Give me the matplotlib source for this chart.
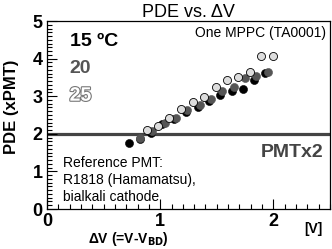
import matplotlib
matplotlib.use('Agg')
import matplotlib.pyplot as plt
import matplotlib.patheffects as pe
from matplotlib.ticker import MultipleLocator

# PDE relative to reference PMT vs over-voltage, three temperatures
dv_15 = [0.72, 0.82, 0.92, 1.02, 1.12, 1.23, 1.33, 1.43, 1.53, 1.63, 1.73, 1.83, 1.93]
pde_15 = [1.75, 1.86, 2.02, 2.25, 2.40, 2.58, 2.70, 2.88, 3.04, 3.15, 3.20, 3.43, 3.62]

dv_20 = [0.82, 0.93, 1.04, 1.14, 1.24, 1.35, 1.45, 1.55, 1.65, 1.75, 1.85, 1.95]
pde_20 = [1.88, 2.08, 2.30, 2.42, 2.62, 2.76, 2.93, 3.13, 3.25, 3.48, 3.55, 3.65]

dv_25 = [0.88, 0.98, 1.08, 1.18, 1.29, 1.39, 1.49, 1.59, 1.69, 1.79, 1.89, 2.00]
pde_25 = [2.10, 2.20, 2.43, 2.67, 2.85, 2.97, 3.25, 3.42, 3.50, 3.65, 4.08, 4.08]

pmt_ref = 2.0

plt.rcParams['font.family'] = ['Liberation Sans', 'DejaVu Sans']

fig = plt.figure(figsize=(3.32, 2.49), dpi=100)
ax = fig.add_axes([47/332, 40/249, 283/332, 188/249])

ax.axhline(pmt_ref, color='#444444', lw=2.3, zorder=1)

ms = 5.8
ax.plot(dv_15, pde_15, 'o', color='black', ms=ms, mec='black', mew=0.4, zorder=3)
ax.plot(dv_20, pde_20, 'o', color='#555555', ms=ms, mec='#555555', mew=0.4, zorder=4)
ax.plot(dv_25, pde_25, 'o', color='#dddddd', ms=ms, mec='black', mew=0.6, zorder=5)

ax.set_xlim(0, 2.5)
ax.set_ylim(0, 5)
ax.xaxis.set_major_locator(MultipleLocator(1))
ax.xaxis.set_minor_locator(MultipleLocator(0.1))
ax.yaxis.set_major_locator(MultipleLocator(1))
ax.yaxis.set_minor_locator(MultipleLocator(0.1))
ax.tick_params(which='both', direction='in', top=False, right=False, width=0.8)
ax.tick_params(which='major', length=7, labelsize=13, pad=3)
ax.tick_params(which='minor', length=3.5)
for lab in ax.get_xticklabels() + ax.get_yticklabels():
    lab.set_fontweight('bold')
for s in ax.spines.values():
    s.set_linewidth(0.9)

ax.set_title('PDE vs. ΔV', fontsize=13, pad=2)

fig.text(12/332, 1 - 107/249, 'PDE (xPMT)', rotation=90, ha='center', va='center',
         fontsize=12, fontweight='bold')
fig.text(128/332, 1 - 239/249, r'ΔV (=V-V$_{\mathbf{BD}}$)', ha='center', va='center',
         fontsize=10, fontweight='bold')
fig.text(313/332, 1 - 229/249, '[V]', ha='center', va='center', fontsize=10, fontweight='bold')

ax.text(0.08, 0.89, '15 ºC', transform=ax.transAxes, fontsize=14, fontweight='bold',
        color='black', va='center')
ax.text(0.08, 0.745, '20', transform=ax.transAxes, fontsize=14, fontweight='bold',
        color='#555555', va='center')
ax.text(0.08, 0.60, '25', transform=ax.transAxes, fontsize=14, fontweight='bold',
        color='white', va='center',
        path_effects=[pe.Stroke(linewidth=1.6, foreground='#777777'), pe.Normal()])
ax.text(0.985, 0.935, 'One MPPC (TA0001)', transform=ax.transAxes, fontsize=10,
        ha='right', va='center')
ax.text(0.975, 0.30, 'PMTx2', transform=ax.transAxes, fontsize=14, fontweight='bold',
        color='#444444', ha='right', va='center')
ax.text(0.055, 0.155, 'Reference PMT:\nR1818 (Hamamatsu),\nbialkali cathode',
        transform=ax.transAxes, fontsize=10, ha='left', va='center', linespacing=1.25)

fig.savefig('out.png', dpi=100)
